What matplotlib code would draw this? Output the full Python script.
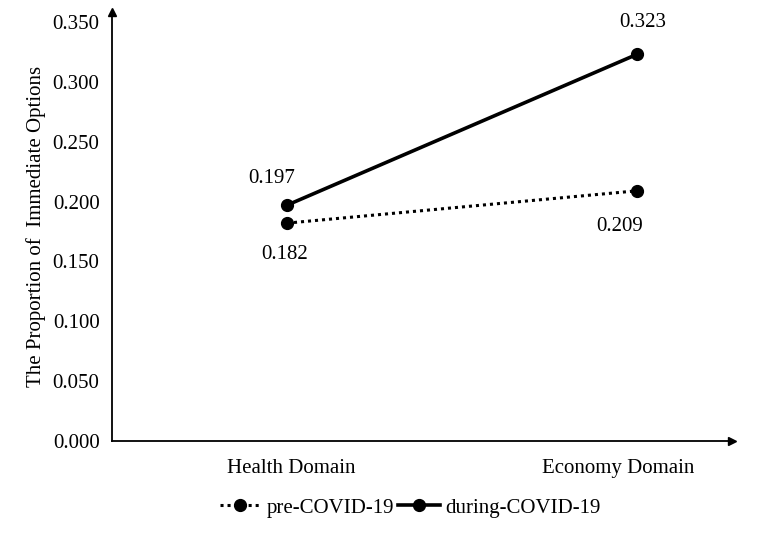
import numpy
import matplotlib
matplotlib.use("Agg")
import matplotlib.pyplot as plt
from matplotlib.transforms import ScaledTranslation

# donnees
domains  = ["Health Domain", "Economy Domain"]
pre_covid    = [0.182, 0.209]
during_covid = [0.197, 0.323]
y_ticks = [0.000, 0.050, 0.100, 0.150, 0.200, 0.250, 0.300, 0.350]

FS = 15

plt.rcParams["font.family"] = ["Liberation Serif", "DejaVu Serif"]

fig = plt.figure(figsize=(7.57, 5.39), dpi=100)
W, H = 757, 539
# axes: x de 112 a 732 px, y de 441 a 12 px
ax = fig.add_axes([112 / W, (H - 441) / H, (732 - 112) / W, (441 - 12) / H])

x = numpy.arange(len(domains))
ax.plot(x, pre_covid, color="black", lw=2.2, ls=(0, (1, 1.3)),
        marker="o", ms=8.5, label="pre-COVID-19")
ax.plot(x, during_covid, color="black", lw=2.6, ls="-",
        marker="o", ms=8.5, label="during-COVID-19")

# x: categorie 0 a 287 px, categorie 1 a 637 px
ax.set_xlim((112 - 287) / 350, (732 - 287) / 350)
ax.set_ylim(0, (441 - 12) / 1197.1)

ax.set_yticks(y_ticks)
ax.set_yticklabels([f"{v:.3f}" for v in y_ticks], fontsize=FS)
ax.set_xticks(x)
ax.set_xticklabels(domains, fontsize=FS)
ax.tick_params(axis="both", length=0)
ax.tick_params(axis="y", pad=9)
ax.tick_params(axis="x", pad=13)
# decalage des etiquettes x comme dans l_original
shifts = [0.04, -0.19]
for lab, s in zip(ax.get_xticklabels(), shifts):
    lab.set_transform(lab.get_transform() + ScaledTranslation(s, 0, fig.dpi_scale_trans))
ax.set_ylabel("The Proportion of  Immediate Options", fontsize=FS, labelpad=5)

for s in ["top", "right"]:
    ax.spines[s].set_visible(False)
for s in ["left", "bottom"]:
    ax.spines[s].set_linewidth(1.3)

# fleches au bout des axes
ax.plot(1, 0, ">k", ms=6, transform=ax.transAxes, clip_on=False)
ax.plot(0, 1, "^k", ms=6, transform=ax.transAxes, clip_on=False)

# etiquettes des valeurs (decalages en points)
ax.annotate(f"{during_covid[0]:.3f}", (x[0], during_covid[0]), xytext=(-10.8, 19.4),
            textcoords="offset points", ha="center", va="center", fontsize=FS)
ax.annotate(f"{pre_covid[0]:.3f}", (x[0], pre_covid[0]), xytext=(-1.4, -22.3),
            textcoords="offset points", ha="center", va="center", fontsize=FS)
ax.annotate(f"{during_covid[1]:.3f}", (x[1], during_covid[1]), xytext=(4.3, 23),
            textcoords="offset points", ha="center", va="center", fontsize=FS)
ax.annotate(f"{pre_covid[1]:.3f}", (x[1], pre_covid[1]), xytext=(-12.2, -26),
            textcoords="offset points", ha="center", va="center", fontsize=FS)

fig.legend(loc="center", bbox_to_anchor=(410 / W, (H - 508) / H), ncol=2,
           frameon=False, fontsize=FS, handlelength=2.0, handletextpad=0.25,
           columnspacing=0.2)

fig.savefig("out.png", dpi=100)
